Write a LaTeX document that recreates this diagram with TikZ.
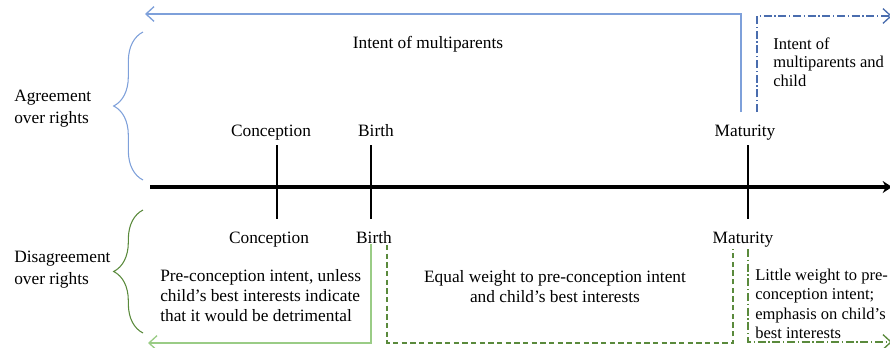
\documentclass[tikz,border=0pt]{standalone}
\usepackage{fontspec}
\setmainfont{Liberation Serif}
\usetikzlibrary{positioning}
\usetikzlibrary{calc}
\usetikzlibrary{arrows.meta}
\usetikzlibrary{decorations.pathreplacing}

\definecolor{agreeblue}{HTML}{7EA0DA}
\definecolor{childblue}{HTML}{4A6DAE}
\definecolor{lightgreen}{HTML}{9ACC86}
\definecolor{darkgreen}{HTML}{5A8A3C}

\begin{document}
\begin{tikzpicture}[x=0.75pt, y=-0.75pt,
	lbl/.style={font=\fontsize{13}{15}\selectfont, inner sep=0pt},
	tickline/.style={line width=1pt, black},
	bracket/.style={decorate, decoration={brace, amplitude=22pt}, line width=0.8pt},
	barb/.style={-{Straight Barb[length=6pt, width=11pt]}},
	dashdot/.style={dash pattern=on 6pt off 2pt on 1pt off 2pt},
	shortdash/.style={dash pattern=on 4pt off 2.5pt}]
	\useasboundingbox (0,0) rectangle (890,347);

	% timeline
	\coordinate (tstart) at (150,187);
	\coordinate (tend) at (892,187);
	\draw[line width=2.6pt, -{Stealth[length=7pt, width=9pt]}] (tstart) -- (tend);

	% events above and below
	\node[lbl, anchor=base] (concup) at (271,136) {Conception};
	\node[lbl, anchor=base] (birthup) at (376,136) {Birth};
	\node[lbl, anchor=base] (matup) at (745,136) {Maturity};
	\node[lbl, anchor=base] (conclow) at (269,243) {Conception};
	\node[lbl, anchor=base] (birthlow) at (374,243) {Birth};
	\node[lbl, anchor=base] (matlow) at (743,243) {Maturity};
	\draw[tickline] (277,145) -- (277,219);
	\draw[tickline] (371,145) -- (371,219);
	\draw[tickline] (748,145) -- (748,219);

	% braces
	\draw[bracket, agreeblue] (143,180) -- (143,32);
	\draw[bracket, darkgreen] (143,333) -- (143,210);
	\node[lbl, align=left, anchor=west, font=\fontsize{13}{16.5}\selectfont] (agree) at (14,109) {Agreement\\over rights};
	\node[lbl, align=left, anchor=west, font=\fontsize{13}{16.5}\selectfont] (disagree) at (14,270) {Disagreement\\over rights};

	% agreement
	\node[lbl] (intent) at (428,44) {Intent of multiparents};
	\node[lbl, align=left, anchor=west, font=\fontsize{12.4}{14}\selectfont] (intentchild) at (773,62) {Intent of\\multiparents and\\child};
	\coordinate (mpfrom) at (741,112);
	\coordinate (mpto) at (145,14);
	\coordinate (mcfrom) at (757,112);
	\coordinate (mcto) at (892,16);
	\draw[agreeblue, line width=1pt, barb] (mpfrom) |- (mpto);
	\draw[childblue, line width=1pt, dashdot, barb] (mcfrom) |- (mcto);

	% disagreement
	\node[lbl, align=left, anchor=west] (preconc) at (160,296) {Pre-conception intent, unless\\child’s best interests indicate\\that it would be detrimental};
	\node[lbl, align=center] (equal) at (555,287) {Equal weight to pre-conception intent\\and child’s best interests};
	\node[lbl, align=left, anchor=west, font=\fontsize{12.4}{14.5}\selectfont] (little) at (755,304) {Little weight to pre-\\conception intent;\\emphasis on child’s\\best interests};
	\coordinate (pcfrom) at (371,244);
	\coordinate (pcto) at (148,343);
	\coordinate (eqfrom) at (387,245);
	\coordinate (eqcorner) at (387,343);
	\coordinate (eqto) at (733,249);
	\coordinate (lwfrom) at (748,249);
	\coordinate (lwto) at (892,342);
	\draw[lightgreen, line width=1pt, barb] (pcfrom) |- (pcto);
	\draw[darkgreen, line width=1pt, shortdash] (eqfrom) -- (eqcorner) -| (eqto);
	\draw[darkgreen, line width=1pt, dashdot, barb] (lwfrom) |- (lwto);
\end{tikzpicture}
\end{document}
